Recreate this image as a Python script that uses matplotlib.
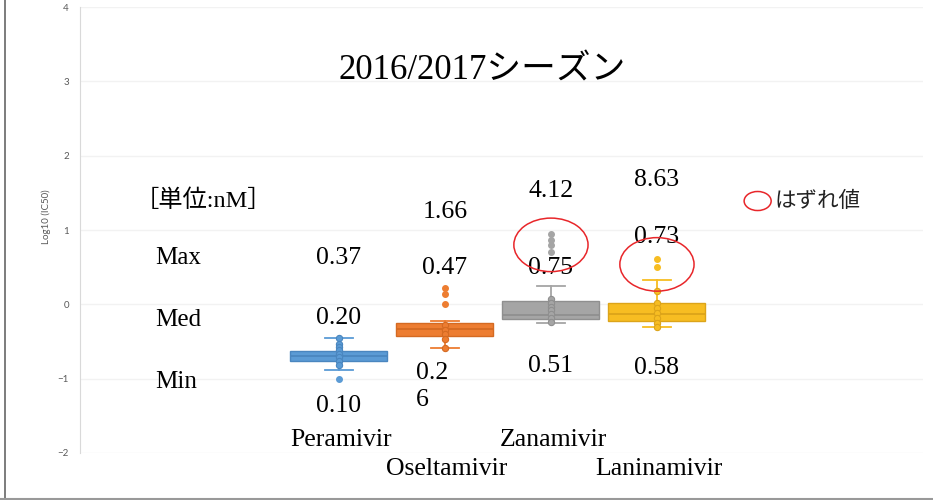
import numpy as np
import matplotlib
matplotlib.use("Agg")
import matplotlib.pyplot as plt
from matplotlib.patches import Ellipse
from matplotlib.lines import Line2D

# log10(IC50) box statistics
drugs = ["Peramivir", "Oseltamivir", "Zanamivir", "Laninamivir"]
q1 = [-0.763, -0.427, -0.200, -0.224]
med = [-0.693, -0.337, -0.148, -0.126]
q3 = [-0.628, -0.250, 0.040, 0.013]
whislo = [-0.879, -0.583, -0.246, -0.305]
whishi = [-0.453, -0.224, 0.250, 0.323]
fliers = [[-1.0], [0.224, 0.135, 0.0], [0.94, 0.87, 0.80, 0.70], [0.615, 0.50]]
inner = [
    [-0.453, -0.53, -0.575, -0.62, -0.665, -0.71, -0.763, -0.82],
    [-0.283, -0.34, -0.395, -0.46, -0.583],
    [0.07, 0.02, -0.03, -0.07, -0.125, -0.18, -0.24],
    [0.18, 0.02, -0.045, -0.117, -0.18, -0.25, -0.305],
]
# nM labels (max, med, min)
max_lbl = ["0.37", "1.66", "4.12", "8.63"]
max2_lbl = [None, "0.47", "0.75", "0.73"]
med_lbl = ["0.20", None, None, None]
min_lbl = ["0.10", "0.2\n6", "0.51", "0.58"]

colors = ["#5b9bd5", "#ed7d31", "#a5a5a5", "#f7bd22"]
edges = ["#4a86bf", "#d46a22", "#8f8f8f", "#dca41a"]

serif = ["Liberation Serif", "Noto Sans CJK JP"]
gothic = ["Noto Sans CJK JP", "DejaVu Sans"]

fig = plt.figure(figsize=(9.33, 5.0), dpi=100)
ax = fig.add_axes([80 / 933, 1 - 453 / 500, 843 / 933, 446 / 500])

pos = np.arange(1, len(drugs) + 1)
for i in range(len(drugs)):
    st = dict(q1=q1[i], med=med[i], q3=q3[i], whislo=whislo[i],
              whishi=whishi[i], fliers=fliers[i], label=drugs[i])
    ax.bxp([st], positions=[pos[i]], widths=0.915, capwidths=0.27,
           patch_artist=True, manage_ticks=False,
           boxprops=dict(facecolor=colors[i], edgecolor=edges[i], linewidth=1),
           medianprops=dict(color=edges[i], linewidth=1.3),
           whiskerprops=dict(color=colors[i], linewidth=1.3),
           capprops=dict(color=colors[i], linewidth=1.3),
           flierprops=dict(marker="o", markerfacecolor=colors[i],
                           markeredgecolor=colors[i], markersize=4))
    ax.plot([pos[i]] * len(inner[i]), inner[i], "o", color=colors[i],
            markerfacecolor=colors[i], markeredgecolor=edges[i],
            markersize=4.5, markeredgewidth=0.8, zorder=4)

ax.set_xlim(-1.443, 6.51)
ax.set_ylim(-2, 4)
ax.set_yticks(range(-2, 5))
ax.tick_params(axis="y", length=0, pad=8, labelsize=7, labelcolor="#595959")
ax.set_xticks([])
for lab in ax.get_yticklabels():
    lab.set_family("Lato")
ax.set_ylabel("Log10 (IC50)", fontsize=7, color="#595959", family="Lato")
ax.yaxis.set_label_coords(-0.034, 0.53)
ax.grid(axis="y", color="#f2f2f2", linewidth=1)
ax.set_axisbelow(True)
for s in ["top", "right", "bottom"]:
    ax.spines[s].set_visible(False)
ax.spines["left"].set_color("#d9d9d9")

# texts
ax.text(2.35, 3.14, "2016/2017シーズン", fontsize=25, family=serif,
        ha="center", va="center")
ax.text(-0.93, 1.40, "［単位:nM］", fontsize=17.5, family=serif, ha="left", va="center")
for t, y in [("Max", 0.62), ("Med", -0.215), ("Min", -1.04)]:
    ax.text(-0.735, y, t, fontsize=18, family=serif, ha="left", va="center")

max_y = [0.62, 1.24, 1.53, 1.67]
max2_y = [None, 0.485, 0.485, 0.90]
min_y = [-1.37, -1.10, -0.83, -0.85]
for i in range(len(drugs)):
    ax.text(pos[i], max_y[i], max_lbl[i], fontsize=18.5, family=serif, ha="center", va="center")
    if max2_lbl[i]:
        ax.text(pos[i], max2_y[i], max2_lbl[i], fontsize=18.5, family=serif, ha="center", va="center")
    if med_lbl[i]:
        ax.text(pos[i], -0.19, med_lbl[i], fontsize=18.5, family=serif, ha="center", va="center")
    if "\n" in min_lbl[i]:
        ax.text(pos[i] - 0.273, min_y[i], min_lbl[i], fontsize=18.5, family=serif,
                ha="left", va="center", linespacing=1.3)
    else:
        ax.text(pos[i], min_y[i], min_lbl[i], fontsize=18.5, family=serif, ha="center", va="center")
    yl = -1.83 if i % 2 == 0 else -2.21
    ax.text(pos[i] + 0.02, yl, drugs[i], fontsize=18.5, family=serif, ha="center",
            va="center", clip_on=False)

# outlier rings
for i in [2, 3]:
    cy = np.mean([min(fliers[i]), max(fliers[i])]) - 0.02
    ax.add_patch(Ellipse((pos[i], cy), 0.70, 0.72, fill=False,
                         edgecolor="#e8262a", linewidth=1.1, zorder=5))
ax.add_patch(Ellipse((4.95, 1.39), 0.255, 0.256, fill=False,
                     edgecolor="#e8262a", linewidth=1.1, clip_on=False))
ax.text(5.11, 1.39, "はずれ値", fontsize=15.5, family=gothic, ha="left",
        va="center", color="#222222")

# outer frame (left and bottom)
fig.add_artist(Line2D([4.5 / 933, 4.5 / 933], [0, 1], color="#666666", linewidth=1.2))
fig.add_artist(Line2D([0, 1], [1.5 / 500, 1.5 / 500], color="#999999", linewidth=1.5))

fig.savefig("out.png", dpi=100)
